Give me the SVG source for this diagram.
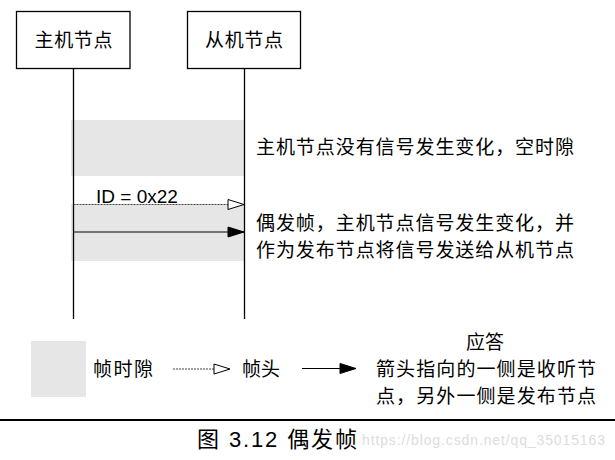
<svg xmlns="http://www.w3.org/2000/svg" width="615" height="460" viewBox="0 0 615 460">
<defs>
<style>
.box{fill:#fff;stroke:#000;stroke-width:1.3}
.life{stroke:#000;stroke-width:1.3;fill:none}
.slot{fill:#e6e6e6;stroke:none}
.cjk{font-family:"Noto Sans CJK SC","Liberation Sans",sans-serif;font-size:19px;fill:#000}
.lat{font-family:"Liberation Sans",Arial,sans-serif;font-size:19px;fill:#000}
.msg{stroke:#000;stroke-width:1.2;fill:none}
.dash{stroke:#444;stroke-width:1.2;stroke-dasharray:2 1;fill:none}
</style>
<marker id="hollow" markerWidth="18" markerHeight="12" refX="17" refY="6" orient="auto" markerUnits="userSpaceOnUse">
<path d="M1,1 L17,6 L1,11 Z" fill="#fff" stroke="#000" stroke-width="1"/>
</marker>
<marker id="solid" markerWidth="18" markerHeight="12" refX="17" refY="6" orient="auto" markerUnits="userSpaceOnUse">
<path d="M1,1 L17,6 L1,11 Z" fill="#000" stroke="#000" stroke-width="1"/>
</marker>
</defs>
<rect width="615" height="460" fill="#fff"/>

<g id="slots">
<rect class="slot" x="71" y="120" width="173" height="56"/>
<rect class="slot" x="71" y="204" width="173" height="57"/>
</g>

<g id="master">
<rect class="box" x="16.5" y="11.5" width="113.5" height="57"/>
<text class="cjk" x="73.5" y="47" text-anchor="middle" textLength="78">主机节点</text>
<line class="life" x1="73.5" y1="68.5" x2="73.5" y2="319"/>
</g>

<g id="slave">
<rect class="box" x="187.5" y="11.5" width="113" height="57"/>
<text class="cjk" x="244" y="47" text-anchor="middle" textLength="78">从机节点</text>
<line class="life" x1="244.5" y1="68.5" x2="244.5" y2="319"/>
</g>

<g id="connectors">
<line class="dash" x1="73.5" y1="204.5" x2="244" y2="204.5" marker-end="url(#hollow)"/>
<line class="msg" x1="73.5" y1="232" x2="244" y2="232" marker-end="url(#solid)"/>
</g>

<g id="labels">
<text class="lat" x="96" y="203">ID = 0x22</text>
<text class="cjk" x="256" y="154" textLength="318">主机节点没有信号发生变化，空时隙</text>
<text class="cjk" x="256" y="230" textLength="318">偶发帧，主机节点信号发生变化，并</text>
<text class="cjk" x="256" y="257" textLength="318">作为发布节点将信号发送给从机节点</text>
</g>

<g id="legend">
<rect class="slot" x="31" y="341" width="55" height="56"/>
<text class="cjk" x="93" y="376" textLength="60">帧时隙</text>
<line class="dash" x1="173" y1="369" x2="230" y2="369" marker-end="url(#hollow)"/>
<text class="cjk" x="242" y="376" textLength="38">帧头</text>
<line class="msg" x1="302" y1="368.5" x2="356" y2="368.5" marker-end="url(#solid)"/>
<text class="cjk" x="485" y="349" text-anchor="middle" textLength="38">应答</text>
<text class="cjk" x="376" y="375.5" textLength="220">箭头指向的一侧是收听节</text>
<text class="cjk" x="376" y="403" textLength="220">点，另外一侧是发布节点</text>
</g>

<line x1="0" y1="420" x2="615" y2="420" stroke="#000" stroke-width="2.2"/>
<text x="197" y="447" font-family="'Liberation Sans','Noto Sans CJK SC',sans-serif" font-size="22" fill="#000" textLength="160">图 3.12 偶发帧</text>
<text x="362" y="445" font-family="'Liberation Sans',Arial,sans-serif" font-size="14" fill="#dcdcdc" textLength="243">https://blog.csdn.net/qq_35015163</text>
</svg>
